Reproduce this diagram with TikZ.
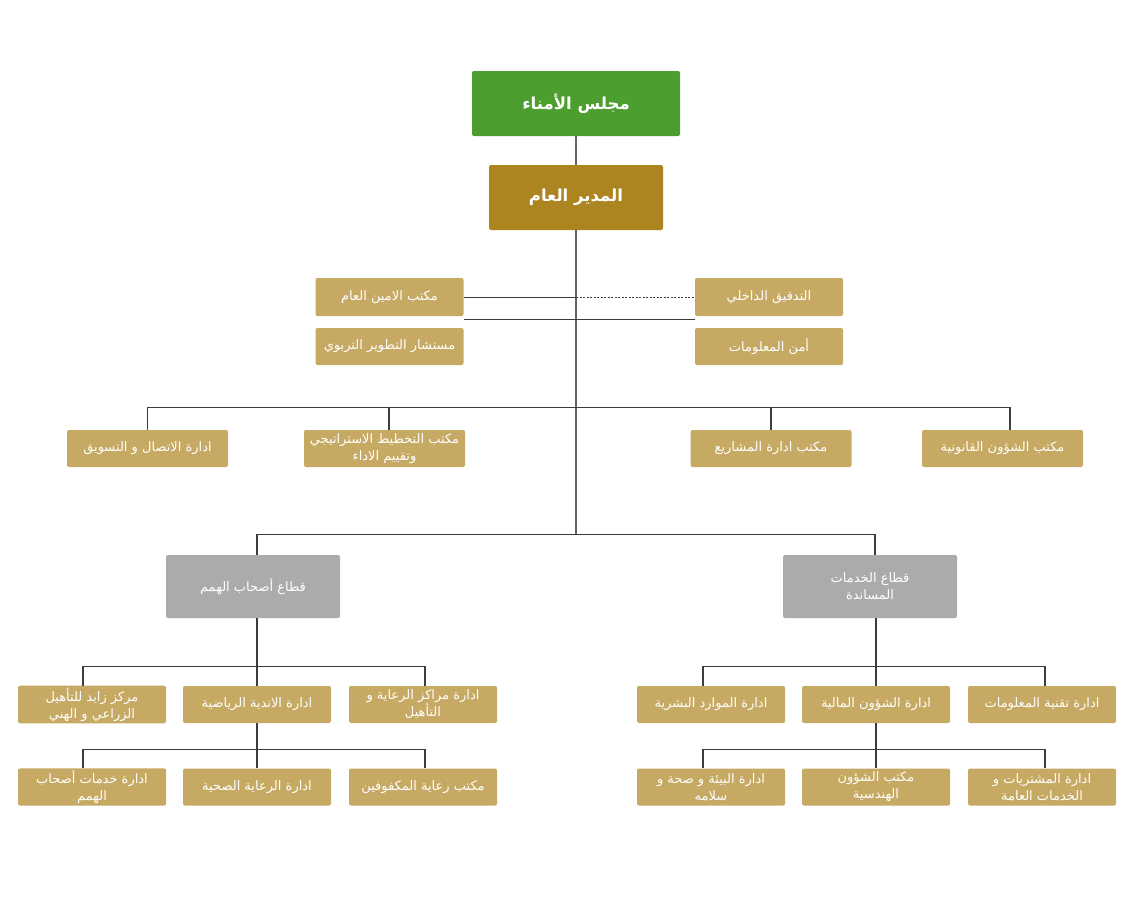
\documentclass[tikz,border=0pt]{standalone}
\usepackage{fontspec}
\TeXXeTstate=1
\newfontfamily\arabicfont[Script=Arabic]{DejaVu Sans}
\newcommand\artxt[1]{\beginR #1\endR}
\definecolor{greenc}{HTML}{4C9E2F}
\definecolor{gmc}{HTML}{AD8520}
\definecolor{goldc}{HTML}{C6A963}
\definecolor{grayc}{HTML}{ABABAB}
\definecolor{linec}{HTML}{3C3C3C}
\begin{document}
\begin{tikzpicture}[x=1pt,y=-1pt,
  box/.style={rectangle, rounded corners=2pt, inner sep=2pt, text=white, align=center,
    font=\arabicfont\fontsize{13}{17}\selectfont, minimum height=37pt},
  gold/.style={box, fill=goldc, minimum width=148pt},
  goldw/.style={box, fill=goldc, minimum width=161pt},
  grayb/.style={box, fill=grayc, minimum width=174pt, minimum height=63pt},
  topb/.style={box, font=\arabicfont\bfseries\fontsize{16.5}{20}\selectfont, minimum height=65pt},
  conn/.style={draw=linec, line width=1.1pt},
  trunk/.style={draw=linec!80, line width=1.5pt}
]
\useasboundingbox (0,0) rectangle (1147,900);

% top
\node[topb, fill=greenc, minimum width=208pt] (board) at (576,103.5) {\artxt{مجلس الأمناء}};
\node[topb, fill=gmc, minimum width=174pt] (gm) at (576,197.5) {\artxt{المدير العام}};

% offices
\node[gold, minimum height=38pt] (amin) at (389.5,297) {\artxt{مكتب الامين العام}};
\node[gold, minimum height=38pt] (audit) at (769,297) {\artxt{التدقيق الداخلي}};
\node[gold] (mustashar) at (389.5,346.5) {\artxt{مستشار التطوير التربوي}};
\node[gold] (amn) at (769,346.5) {\artxt{أمن المعلومات}};

% row 3
\node[goldw] (comm) at (147.5,448.5) {\artxt{ادارة الاتصال و التسويق}};
\node[goldw] (plan) at (384.5,448.5) {\artxt{مكتب التخطيط الاستراتيجي}\\\artxt{وتقييم الاداء}};
\node[goldw] (proj) at (771,448.5) {\artxt{مكتب ادارة المشاريع}};
\node[goldw] (legal) at (1002.5,448.5) {\artxt{مكتب الشؤون القانونية}};

% sectors
\node[grayb] (hemam) at (253,586.5) {\artxt{قطاع أصحاب الهمم}};
\node[grayb] (serv) at (870,586.5) {\artxt{قطاع الخدمات}\\\artxt{المساندة}};

% left subtree
\node[gold] (zayed) at (92,704.5) {\artxt{مركز زايد للتأهيل}\\\artxt{الزراعي و الهني}};
\node[gold] (clubs) at (257,704.5) {\artxt{ادارة الاندية الرياضية}};
\node[gold] (centers) at (423,704.5) {\artxt{ادارة مراكز الرعاية و}\\\artxt{التأهيل}};
\node[gold] (hserv) at (92,787) {\artxt{ادارة خدمات أصحاب}\\\artxt{الهمم}};
\node[gold] (health) at (257,787) {\artxt{ادارة الرعاية الصحية}};
\node[gold] (blind) at (423,787) {\artxt{مكتب رعاية المكفوفين}};

% right subtree
\node[gold] (hr) at (711,704.5) {\artxt{ادارة الموارد البشرية}};
\node[gold] (fin) at (876,704.5) {\artxt{ادارة الشؤون المالية}};
\node[gold] (it) at (1042,704.5) {\artxt{ادارة تقنية المعلومات}};
\node[gold] (env) at (711,787) {\artxt{ادارة البيئة و صحة و}\\\artxt{سلامه}};
\node[gold] (eng) at (876,787) {\artxt{مكتب الشؤون}\\\artxt{الهندسية}};
\node[gold] (proc) at (1042,787) {\artxt{ادارة المشتريات و}\\\artxt{الخدمات العامة}};

% coordinates
\coordinate (bus3) at (576,407.5);
\coordinate (bus4) at (576,534.5);
\coordinate (lbus1) at (257,666.5);
\coordinate (lbus2) at (257,749.5);
\coordinate (rbus1) at (876,666.5);
\coordinate (rbus2) at (876,749.5);
\coordinate (mid) at (576,297.5);

% trunk
\draw[trunk] (board.south) -- (gm.north);
\draw[trunk] (gm.south) -- (bus4);

% office lines
\draw[conn] (amin.east |- mid) -- (mid);
\draw[conn, dash pattern=on 2pt off 1.5pt] (mid) -- (audit.west |- mid);
\draw[conn] ([yshift=-3.5pt]amin.south east) -- ([yshift=-3.5pt]audit.south west);

% row 3 bus
\draw[conn] (comm.north) |- (bus3) -| ([xshift=7.5pt]legal.north);
\draw[conn] ([xshift=4.5pt]plan.north) -- ([xshift=4.5pt]plan.north |- bus3);
\draw[conn] (proj.north) -- (proj.north |- bus3);

% row 4 bus
\draw[conn] ([xshift=4pt]hemam.north) |- (bus4) -| ([xshift=5pt]serv.north);

% left subtree
\draw[conn] ([xshift=4pt]hemam.south) -- (clubs.north);
\draw[conn] ([xshift=-9pt]zayed.north) |- (lbus1) -| ([xshift=2pt]centers.north);
\draw[conn] (clubs.south) -- (lbus2);
\draw[conn] ([xshift=-9pt]hserv.north) |- (lbus2) -| ([xshift=2pt]blind.north);
\draw[conn] (lbus2) -- (health.north);

% right subtree
\draw[conn] ([xshift=6pt]serv.south) -- (fin.north);
\draw[conn] ([xshift=-8pt]hr.north) |- (rbus1) -| ([xshift=3pt]it.north);
\draw[conn] (fin.south) -- (rbus2);
\draw[conn] ([xshift=-8pt]env.north) |- (rbus2) -| ([xshift=3pt]proc.north);
\draw[conn] (rbus2) -- (eng.north);
\end{tikzpicture}
\end{document}
